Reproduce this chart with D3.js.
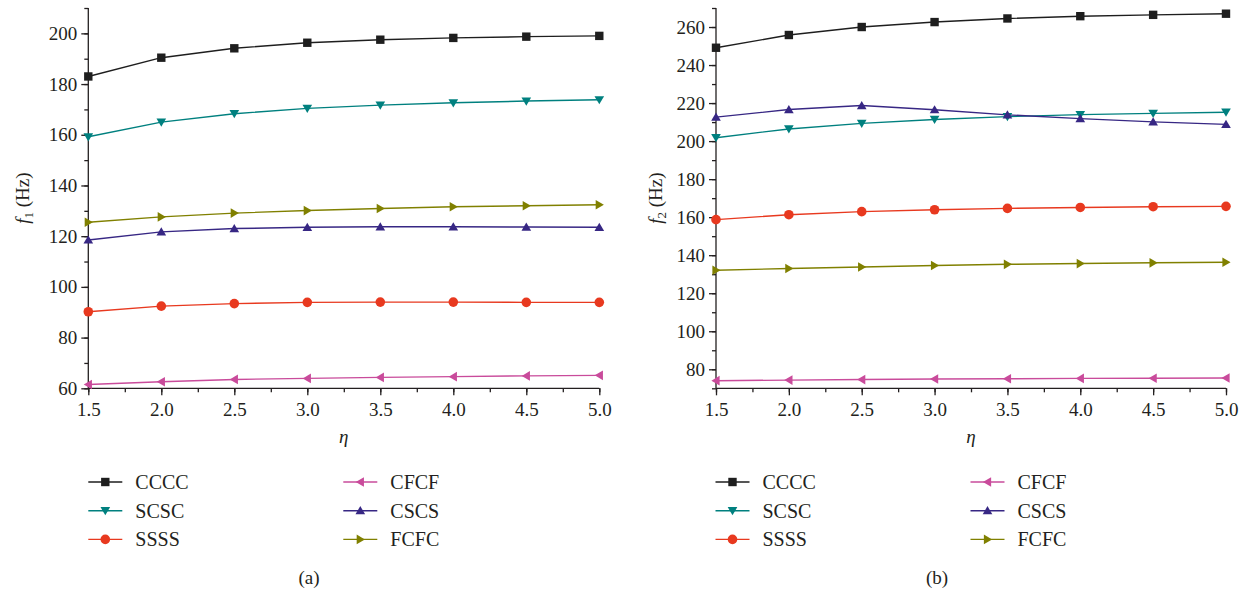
<!DOCTYPE html>
<html>
<head>
<meta charset="utf-8">
<script src="https://cdn.jsdelivr.net/npm/d3@7"></script>
<style>
  body { margin: 0; background: #fff; }
  svg text { font-family: "Liberation Serif", "Times New Roman", serif; fill: #231f20; }
</style>
</head>
<body>
<svg id="chart" width="1250" height="592"></svg>
<script>
var etaValues = [1.5, 2.0, 2.5, 3.0, 3.5, 4.0, 4.5, 5.0];
var xTicks = [1.5, 2.0, 2.5, 3.0, 3.5, 4.0, 4.5, 5.0];

var seriesNames = ["CCCC", "SCSC", "SSSS", "CFCF", "CSCS", "FCFC"];
var seriesColors = ["#1e1e1e", "#00807f", "#e8391f", "#c94b9b", "#372784", "#808000"];
var seriesSymbols = ["square", "down", "circle", "left", "up", "right"];

// panel (a): f1
var f1CCCC = [183.0, 190.4, 194.1, 196.3, 197.5, 198.2, 198.7, 199.0];
var f1SCSC = [159.2, 165.0, 168.3, 170.4, 171.7, 172.6, 173.3, 173.8];
var f1SSSS = [90.2, 92.4, 93.4, 93.9, 94.0, 94.0, 93.9, 93.9];
var f1CFCF = [61.5, 62.6, 63.5, 63.9, 64.3, 64.6, 64.9, 65.1];
var f1CSCS = [118.5, 121.7, 123.0, 123.5, 123.7, 123.7, 123.6, 123.5];
var f1FCFC = [125.5, 127.6, 129.1, 130.1, 130.9, 131.6, 132.0, 132.4];
var f1Ticks = [60, 80, 100, 120, 140, 160, 180, 200];

// panel (b): f2
var f2CCCC = [249.1, 255.8, 260.0, 262.6, 264.5, 265.7, 266.4, 267.0];
var f2SCSC = [201.8, 206.4, 209.3, 211.4, 212.9, 213.9, 214.6, 215.2];
var f2SSSS = [158.7, 161.3, 162.9, 163.9, 164.6, 165.1, 165.5, 165.7];
var f2CFCF = [74.0, 74.3, 74.6, 74.9, 75.0, 75.2, 75.3, 75.4];
var f2CSCS = [212.6, 216.6, 218.7, 216.5, 213.8, 211.8, 210.1, 208.8];
var f2FCFC = [132.1, 133.0, 133.8, 134.6, 135.2, 135.6, 136.0, 136.3];
var f2Ticks = [80, 100, 120, 140, 160, 180, 200, 220, 240, 260];

var svg = d3.select("#chart");
var serif = '"Liberation Serif", "Times New Roman", serif';

function symbolPath(kind, s) {
    // s = half size
    if (kind == "square") return "M" + (-s) + "," + (-s) + "h" + (2 * s) + "v" + (2 * s) + "h" + (-2 * s) + "Z";
    if (kind == "circle") return "M" + (-s) + ",0a" + s + "," + s + " 0 1,0 " + (2 * s) + ",0a" + s + "," + s + " 0 1,0 " + (-2 * s) + ",0Z";
    var a = s * 1.15;
    if (kind == "down") return "M" + (-a) + "," + (-a * 0.75) + "L" + a + "," + (-a * 0.75) + "L0," + (a * 0.95) + "Z";
    if (kind == "up") return "M" + (-a) + "," + (a * 0.75) + "L" + a + "," + (a * 0.75) + "L0," + (-a * 0.95) + "Z";
    if (kind == "left") return "M" + (a * 0.75) + "," + (-a) + "L" + (a * 0.75) + "," + a + "L" + (-a * 0.95) + ",0Z";
    if (kind == "right") return "M" + (-a * 0.75) + "," + (-a) + "L" + (-a * 0.75) + "," + a + "L" + (a * 0.95) + ",0Z";
}

function drawPanel(opt) {
    var g = svg.append("g");

    var x = d3.scaleLinear().domain([1.5, 5.0]).range([opt.left, opt.right]);
    var y = d3.scaleLinear().domain(opt.yDomain).range([opt.bottom, opt.top]);

    // minor ticks
    var yMinor = d3.range(opt.yDomain[0], opt.yDomain[1] + 0.01, 10);
    var xMinor = d3.range(1.5, 5.01, 0.25);

    var yAxis = d3.axisLeft(y).tickValues(opt.yTicks).tickSize(7).tickPadding(4).tickFormat(d3.format("d"));
    var xAxis = d3.axisBottom(x).tickValues(xTicks).tickSize(7).tickPadding(7).tickFormat(d3.format(".1f"));

    var ya = g.append("g").attr("transform", "translate(" + opt.left + ",0)");
    ya.call(d3.axisLeft(y).tickValues(yMinor).tickSize(4).tickFormat(""));
    ya.select(".domain").remove();
    var yb = g.append("g").attr("transform", "translate(" + opt.left + ",0)").call(yAxis);
    yb.select(".domain").attr("d", "M0," + opt.top + "V" + opt.bottom);

    var xa = g.append("g").attr("transform", "translate(0," + opt.bottom + ")");
    xa.call(d3.axisBottom(x).tickValues(xMinor).tickSize(4).tickFormat(""));
    xa.select(".domain").remove();
    var xb = g.append("g").attr("transform", "translate(0," + opt.bottom + ")").call(xAxis);
    xb.select(".domain").attr("d", "M" + opt.left + ",0H" + opt.right);

    g.selectAll(".domain, .tick line").attr("stroke", "#231f20").attr("stroke-width", 1.3);
    g.selectAll(".tick text").style("font-family", serif).style("font-size", "19px").attr("fill", "#231f20");

    // y label
    var lab = g.append("text")
        .attr("transform", "translate(" + opt.yLabelX + "," + ((opt.top + opt.bottom) / 2) + ") rotate(-90)")
        .attr("text-anchor", "middle")
        .attr("dy", "0.35em")
        .style("font-family", serif)
        .style("font-size", "19px");
    lab.append("tspan").style("font-style", "italic").text("f");
    lab.append("tspan").attr("dy", "4").style("font-size", "13px").text(opt.sub);
    lab.append("tspan").attr("dy", "-4").text(" (Hz)");

    // x label
    g.append("text")
        .attr("x", (opt.left + opt.right) / 2)
        .attr("y", 443)
        .attr("text-anchor", "middle")
        .style("font-family", serif)
        .style("font-size", "19px")
        .style("font-style", "italic")
        .text("η");

    var line = d3.line()
        .x(function (d, i) { return x(etaValues[i]); })
        .y(function (d) { return y(d); });

    opt.series.forEach(function (vals, k) {
        g.append("path")
            .attr("d", line(vals))
            .attr("fill", "none")
            .attr("stroke", seriesColors[k])
            .attr("stroke-width", 1.4);
    });

    opt.series.forEach(function (vals, k) {
        g.selectAll(null)
            .data(vals)
            .enter().append("path")
            .attr("transform", function (d, i) { return "translate(" + x(etaValues[i]) + "," + y(d) + ")"; })
            .attr("d", symbolPath(seriesSymbols[k], seriesSymbols[k] == "circle" ? 4.8 : 4.2))
            .attr("fill", seriesColors[k]);
    });

    // legend
    var leg = g.append("g");
    seriesNames.forEach(function (name, k) {
        var col = Math.floor(k / 3), row = k % 3;
        var lx = opt.legendX + col * 255;
        var ly = 482 + row * 28.7;
        leg.append("line")
            .attr("x1", lx).attr("x2", lx + 34)
            .attr("y1", ly).attr("y2", ly)
            .attr("stroke", seriesColors[k]).attr("stroke-width", 1.4);
        leg.append("path")
            .attr("transform", "translate(" + (lx + 17) + "," + ly + ")")
            .attr("d", symbolPath(seriesSymbols[k], seriesSymbols[k] == "circle" ? 4.8 : 4.2))
            .attr("fill", seriesColors[k]);
        leg.append("text")
            .attr("x", lx + 47)
            .attr("y", ly)
            .attr("dy", "0.35em")
            .style("font-family", serif)
            .style("font-size", "20px")
            .text(name);
    });

    g.append("text")
        .attr("x", opt.captionX)
        .attr("y", 577)
        .attr("dy", "0.35em")
        .attr("text-anchor", "middle")
        .style("font-family", serif)
        .style("font-size", "19px")
        .text(opt.caption);
}

drawPanel({
    left: 88.3, right: 599.3, top: 8, bottom: 388.3,
    yDomain: [60, 210], yTicks: f1Ticks,
    series: [f1CCCC, f1SCSC, f1SSSS, f1CFCF, f1CSCS, f1FCFC],
    sub: "1", yLabelX: 22, legendX: 88.3, captionX: 309, caption: "(a)"
});

drawPanel({
    left: 716, right: 1226, top: 8, bottom: 388.3,
    yDomain: [70, 270], yTicks: f2Ticks,
    series: [f2CCCC, f2SCSC, f2SSSS, f2CFCF, f2CSCS, f2FCFC],
    sub: "2", yLabelX: 655, legendX: 715.5, captionX: 937, caption: "(b)"
});
</script>
</body>
</html>
